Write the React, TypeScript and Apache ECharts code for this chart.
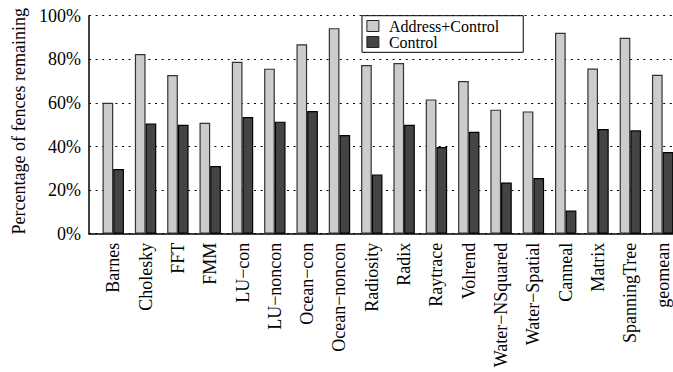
import React, { useEffect, useRef } from "react";
import * as echarts from "echarts";

const categories = [
  "Barnes", "Cholesky", "FFT", "FMM", "LU\u2212con", "LU\u2212noncon",
  "Ocean\u2212con", "Ocean\u2212noncon", "Radiosity", "Radix", "Raytrace",
  "Volrend", "Water\u2212NSquared", "Water\u2212Spatial", "Canneal", "Matrix",
  "SpanningTree", "geomean",
];
const addressControl = [
  60.1, 82.4, 72.8, 50.9, 78.9, 75.7, 86.9, 94.3, 77.4, 78.3, 61.6, 70.0,
  56.9, 56.1, 92.2, 75.8, 89.9, 72.9,
];
const control = [
  29.7, 50.5, 50.0, 31.0, 53.5, 51.4, 56.3, 45.3, 27.2, 50.0, 39.8, 46.8,
  23.5, 25.5, 10.6, 48.0, 47.4, 37.5,
];
const yTicks = [0, 20, 40, 60, 80, 100];
const seriesNames = ["Address+Control", "Control"];

const FONT = "'Liberation Serif', 'Times New Roman', Times, serif";

export default function App() {
  const ref = useRef<HTMLDivElement>(null);
  useEffect(() => {
    if (!ref.current) return;
    const chart = echarts.init(ref.current, undefined, { renderer: "svg" });
    const idx = categories.map((_, i) => i);
    chart.setOption({
      animation: false,
      backgroundColor: "#ffffff",
      textStyle: { fontFamily: FONT, color: "#000" },
      grid: { left: 89, top: 15.7, height: 218, right: 0, containLabel: false },
      legend: {
        orient: "vertical",
        left: 362,
        top: 15.7,
        padding: [2.3, 24, 2.3, 4.4],
        itemGap: 0,
        itemWidth: 12,
        itemHeight: 11,
        itemStyle: { borderWidth: 1, borderColor: "#222" },
        textStyle: { fontFamily: FONT, fontSize: 16, color: "#000", padding: [0, 0, 0, 5] },
        borderColor: "#000",
        borderWidth: 1,
        backgroundColor: "#fff",
        data: seriesNames.map((n) => ({ name: n, icon: "rect" })),
      },
      xAxis: {
        type: "value",
        position: "bottom",
        min: -0.75,
        max: 17.32,
        axisLine: { show: true, onZero: false, lineStyle: { color: "#000", width: 1.5 } },
        axisTick: { show: false },
        splitLine: { show: false },
        axisLabel: {
          customValues: idx,
          rotate: 90,
          margin: 9,
          fontFamily: FONT,
          fontSize: 18,
          color: "#000",
          formatter: (v: number) => categories[Math.round(v)] ?? "",
        },
      },
      yAxis: {
        type: "value",
        position: "left",
        min: 0,
        max: 100,
        interval: 20,
        name: "Percentage of fences remaining",
        nameLocation: "middle",
        nameGap: 59,
        nameTextStyle: { fontFamily: FONT, fontSize: 18, color: "#000", padding: [0, 0, 0, 7] },
        axisLine: { show: true, onZero: false, lineStyle: { color: "#000", width: 1.5 } },
        axisTick: { show: false },
        axisLabel: {
          customValues: yTicks,
          margin: 8,
          fontFamily: FONT,
          fontSize: 18,
          color: "#000",
          formatter: (v: number) => v + "%",
        },
        splitLine: {
          show: true,
          lineStyle: { color: "#000", width: 1, type: [2, 4.6] },
        },
      },
      series: [
        {
          name: seriesNames[0],
          type: "bar",
          barWidth: 10.7,
          barGap: "0%",
          data: addressControl.map((v, i) => [i, v]),
          itemStyle: { color: "#cccccc", borderColor: "#333", borderWidth: 1.2 },
        },
        {
          name: seriesNames[1],
          type: "bar",
          barWidth: 10.7,
          barGap: "0%",
          data: control.map((v, i) => [i, v]),
          itemStyle: { color: "#444444", borderColor: "#000", borderWidth: 1.2 },
        },
      ],
    });
    return () => chart.dispose();
  }, []);
  return (
    <div
      ref={ref}
      style={{ position: "fixed", left: 0, top: 0, width: 673, height: 372, background: "#fff" }}
    />
  );
}
